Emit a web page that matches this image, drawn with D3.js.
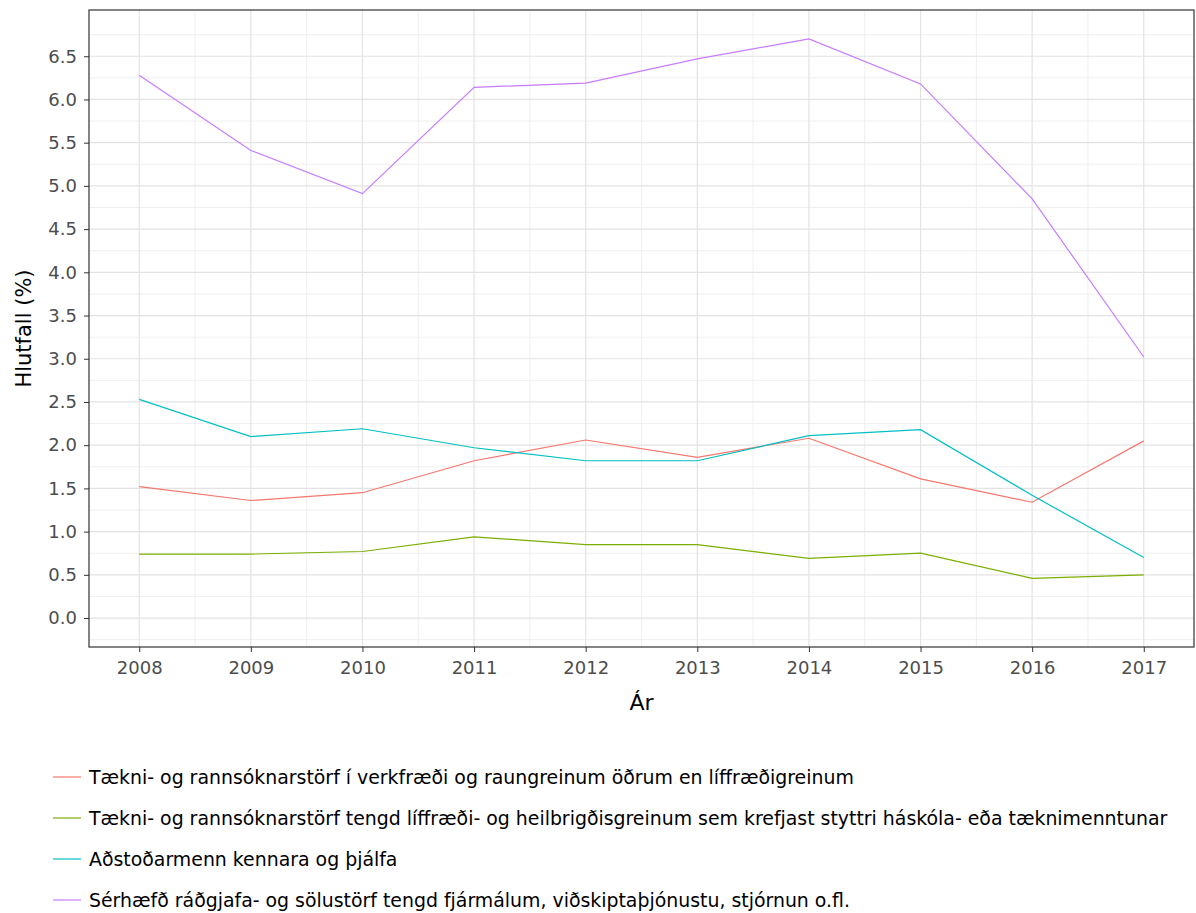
<!DOCTYPE html>
<html><head><meta charset="utf-8">
<script src="https://cdn.jsdelivr.net/npm/d3@7"></script>
<style>
body{margin:0;background:#fff;}
text{font-family:"DejaVu Sans","Liberation Sans",Arial,sans-serif;}
</style></head>
<body><svg id="chart" width="1196" height="913"></svg>
<script>
const years = [2008,2009,2010,2011,2012,2013,2014,2015,2016,2017];
const seriesNames = [
  "Tækni- og rannsóknarstörf í verkfræði og raungreinum öðrum en líffræðigreinum",
  "Tækni- og rannsóknarstörf tengd líffræði- og heilbrigðisgreinum sem krefjast styttri háskóla- eða tæknimenntunar",
  "Aðstoðarmenn kennara og þjálfa",
  "Sérhæfð ráðgjafa- og sölustörf tengd fjármálum, viðskiptaþjónustu, stjórnun o.fl."
];
const techEng   = [1.52,1.36,1.45,1.82,2.06,1.86,2.08,1.61,1.34,2.05];
const techBio   = [0.74,0.74,0.77,0.94,0.85,0.85,0.69,0.75,0.46,0.50];
const assistants= [2.53,2.10,2.19,1.97,1.82,1.82,2.11,2.18,1.42,0.70];
const specialist= [6.28,5.41,4.91,6.14,6.19,6.47,6.70,6.18,4.85,3.02];
const seriesValues = [techEng, techBio, assistants, specialist];
const colors = ["#F8766D","#7CAE00","#00BFC4","#C77CFF"];
const yTicks = [0,0.5,1,1.5,2,2.5,3,3.5,4,4.5,5,5.5,6,6.5];

const svg = d3.select("#chart");
const L = 89, R = 1194, T = 10, B = 647;

const x = d3.scaleLinear().domain([2008-0.45, 2017+0.45]).range([L, R]);
const yMax = 6.70;
const y = d3.scaleLinear().domain([0 - 0.05*yMax, yMax + 0.05*yMax]).range([B, T]);

// grid minor
const g = svg.append("g");
const xMinor = years.slice(0,-1).map(d=>d+0.5);
g.selectAll(".xmin").data(xMinor).enter().append("line")
  .attr("x1",d=>x(d)).attr("x2",d=>x(d)).attr("y1",T).attr("y2",B)
  .attr("stroke","#ebebeb").attr("stroke-width",0.8);
const yMinor = d3.range(-0.25, 7.0, 0.5);
g.selectAll(".ymin").data(yMinor).enter().append("line")
  .attr("x1",L).attr("x2",R).attr("y1",d=>y(d)).attr("y2",d=>y(d))
  .attr("stroke","#ebebeb").attr("stroke-width",0.8);
// grid major
g.selectAll(".xmaj").data(years).enter().append("line")
  .attr("x1",d=>x(d)).attr("x2",d=>x(d)).attr("y1",T).attr("y2",B)
  .attr("stroke","#e3e3e3").attr("stroke-width",1.2);
g.selectAll(".ymaj").data(yTicks).enter().append("line")
  .attr("x1",L).attr("x2",R).attr("y1",d=>y(d)).attr("y2",d=>y(d))
  .attr("stroke","#e3e3e3").attr("stroke-width",1.2);

// lines
const line = d3.line().x((d,i)=>x(years[i])).y(d=>y(d));
seriesValues.forEach((vals,k)=>{
  svg.append("path").datum(vals).attr("d",line)
    .attr("fill","none").attr("stroke",colors[k]).attr("stroke-width",1.2);
});

// border
svg.append("rect").attr("x",L).attr("y",T).attr("width",R-L).attr("height",B-T)
  .attr("fill","none").attr("stroke","#333").attr("stroke-width",1.2);

// axes
const xAxis = d3.axisBottom(x).tickValues(years).tickFormat(d3.format("d")).tickSize(5).tickPadding(8);
const xg = svg.append("g").attr("transform",`translate(0,${B})`).call(xAxis);
xg.select(".domain").remove();
xg.selectAll("line").attr("stroke","#333");
xg.selectAll("text").attr("fill","#4d4d4d").style("font-size","18px").attr("dy","0.75em");

const yAxis = d3.axisLeft(y).tickValues(yTicks).tickFormat(d3.format(".1f")).tickSize(5).tickPadding(7);
const yg = svg.append("g").attr("transform",`translate(${L},0)`).call(yAxis);
yg.select(".domain").remove();
yg.selectAll("line").attr("stroke","#333");
yg.selectAll("text").attr("fill","#4d4d4d").style("font-size","18px");

// titles
svg.append("text").attr("x",(L+R)/2).attr("y",710).attr("text-anchor","middle")
  .style("font-size","22px").attr("fill","#000").text("Ár");
svg.append("text").attr("transform",`translate(31,${(T+B)/2}) rotate(-90)`)
  .attr("text-anchor","middle").style("font-size","21px").attr("fill","#000").text("Hlutfall (%)");

// legend
const leg = svg.append("g");
seriesNames.forEach((name,k)=>{
  const cy = 777 + k*41;
  leg.append("line").attr("x1",53).attr("x2",81).attr("y1",cy).attr("y2",cy)
    .attr("stroke",colors[k]).attr("stroke-width",1.2);
  leg.append("text").attr("x",89).attr("y",cy).attr("dy","0.35em")
    .style("font-size","18.9px").attr("fill","#000").text(name);
});
</script></body></html>
